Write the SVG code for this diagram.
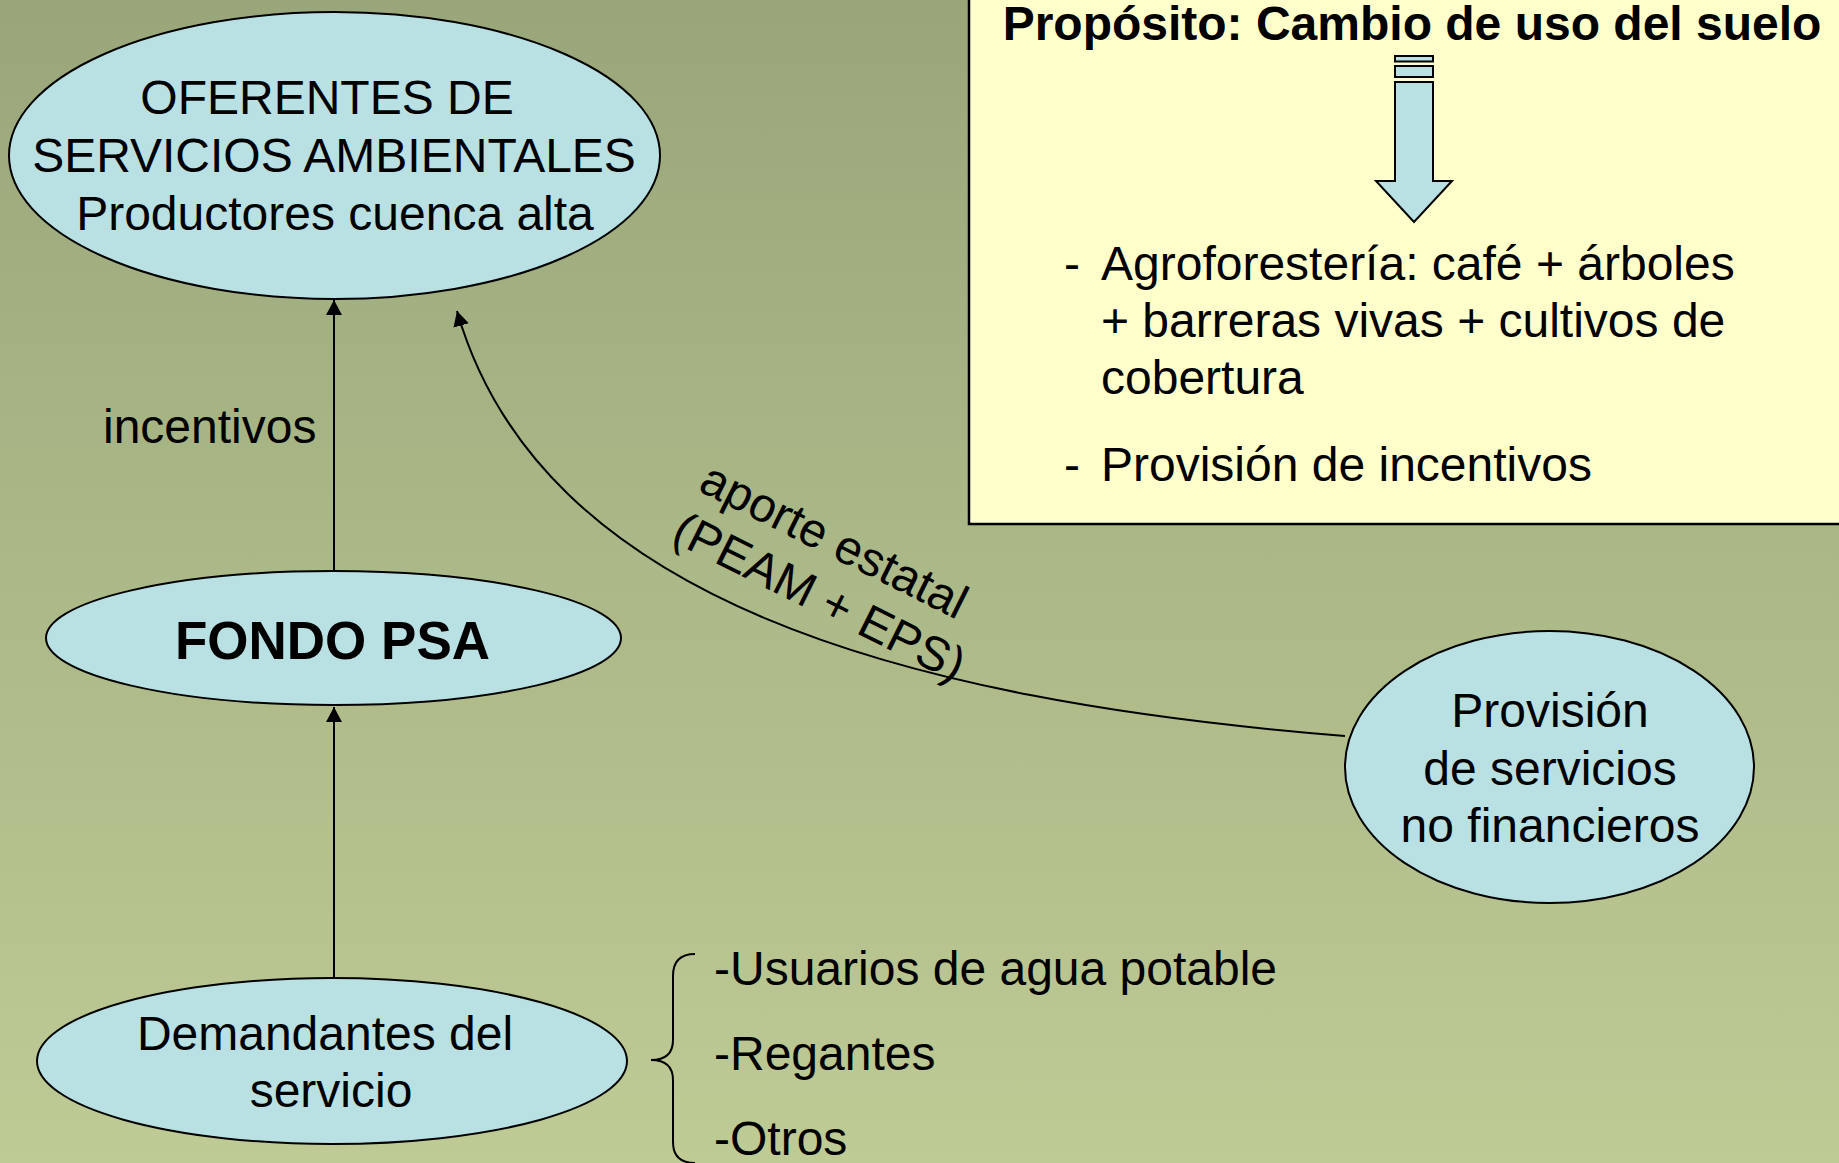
<svg xmlns="http://www.w3.org/2000/svg" width="1839" height="1163" viewBox="0 0 1839 1163">
<defs>
<linearGradient id="bg" x1="0" y1="0" x2="0" y2="1">
<stop offset="0" stop-color="#99A67A"/>
<stop offset="1" stop-color="#BECB95"/>
</linearGradient>
<marker id="ah" markerUnits="userSpaceOnUse" markerWidth="16" markerHeight="16" refX="15" refY="8" orient="auto">
<path d="M0,0 L15,8 L0,16 z" fill="#000"/>
</marker>
<style>
.node{fill:#B9E0E3;stroke:#000;stroke-width:2}
.t{font-family:"Liberation Sans",Arial,sans-serif;font-size:48px;fill:#000}
.c{text-anchor:middle}
.b{font-weight:bold}
.con{fill:none;stroke:#000;stroke-width:2}
</style>
</defs>
<rect x="0" y="0" width="1839" height="1163" fill="url(#bg)"/>

<g id="proposito-box">
<rect x="969" y="-3" width="880" height="527" fill="#FFFFCC" stroke="#000" stroke-width="2.5"/>
<text class="t b c" x="1412" y="40">Propósito: Cambio de uso del suelo</text>
<g fill="#B9E0E3" stroke="#000" stroke-width="2">
<rect x="1395" y="56" width="38" height="5.5"/>
<rect x="1395" y="66" width="38" height="11"/>
<path d="M1395,82 L1433,82 L1433,181 L1452,181 L1414,222 L1376,181 L1395,181 z"/>
</g>
<text class="t" x="1064" y="280">-</text>
<text class="t" x="1101" y="280">Agroforestería: café + árboles</text>
<text class="t" x="1101" y="337">+ barreras vivas + cultivos de</text>
<text class="t" x="1101" y="394">cobertura</text>
<text class="t" x="1064" y="481">-</text>
<text class="t" x="1101" y="481">Provisión de incentivos</text>
</g>

<g id="connectors">
<line class="con" x1="334" y1="571" x2="334" y2="300" marker-end="url(#ah)"/>
<line class="con" x1="334" y1="979" x2="334" y2="707" marker-end="url(#ah)"/>
<path class="con" d="M1345,736 C900,700 540,600 457,311" marker-end="url(#ah)"/>
<path class="con" d="M695,954 Q673,954 673,976 L673,1040 Q673,1060 651,1060 Q673,1060 673,1080 L673,1142 Q673,1163 695,1163"/>
</g>

<g id="oferentes">
<ellipse class="node" cx="334.5" cy="155.5" rx="325.5" ry="143.5"/>
<text class="t c" x="327" y="114">OFERENTES DE</text>
<text class="t c" x="334" y="172">SERVICIOS AMBIENTALES</text>
<text class="t c" x="335" y="230">Productores cuenca alta</text>
</g>

<g id="fondo-psa">
<ellipse class="node" cx="333.5" cy="638" rx="287.5" ry="67"/>
<text class="t b c" x="332.5" y="659" style="font-size:53px">FONDO PSA</text>
</g>

<g id="demandantes">
<ellipse class="node" cx="332" cy="1061" rx="295" ry="83"/>
<text class="t c" x="325" y="1050">Demandantes del</text>
<text class="t c" x="331" y="1107">servicio</text>
</g>

<g id="provision">
<ellipse class="node" cx="1549.5" cy="767" rx="204.5" ry="136"/>
<text class="t c" x="1550" y="727">Provisión</text>
<text class="t c" x="1550" y="785">de servicios</text>
<text class="t c" x="1550" y="842">no financieros</text>
</g>

<g id="labels">
<text class="t" x="103" y="443">incentivos</text>
<g transform="translate(827,555) rotate(26.5)">
<text class="t c" x="0" y="0">aporte estatal</text>
<text class="t c" x="12" y="57">(PEAM + EPS)</text>
</g>
</g>

<g id="demand-list">
<text class="t" x="714" y="985">-Usuarios de agua potable</text>
<text class="t" x="714" y="1070">-Regantes</text>
<text class="t" x="714" y="1155">-Otros</text>
</g>
</svg>
